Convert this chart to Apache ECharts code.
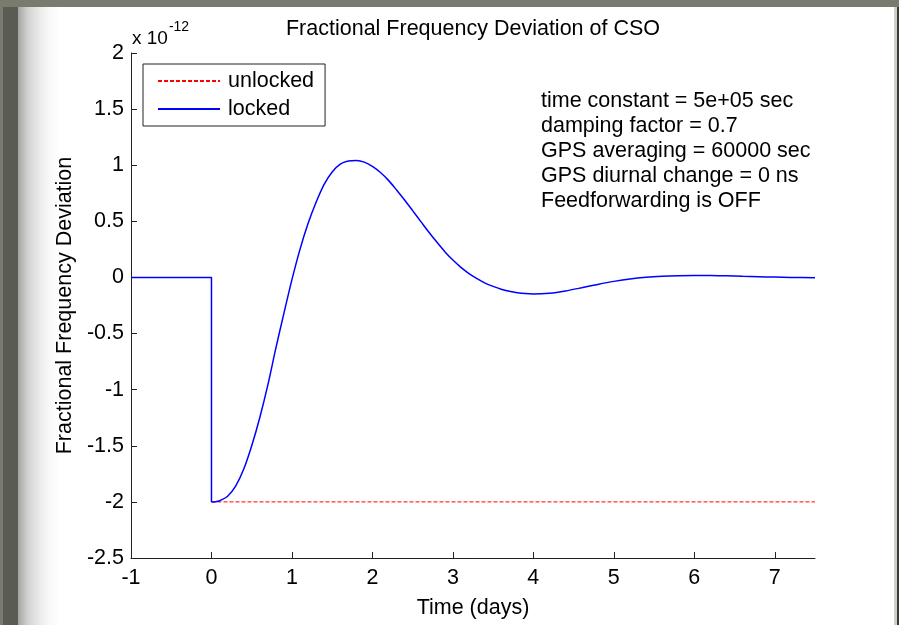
<!DOCTYPE html>
<html>
<head>
<meta charset="utf-8">
<script src="https://cdn.jsdelivr.net/npm/echarts@6/dist/echarts.min.js"></script>
<style>
html, body { margin: 0; padding: 0; width: 899px; height: 625px; overflow: hidden; }
.bg { position: absolute; }
#chart { position: absolute; left: 0; top: 0; width: 899px; height: 625px; }
</style>
</head>
<body>
<div class="bg" style="left:0;top:0;width:899px;height:625px;background:#787b6e;"></div>
<div class="bg" style="left:3px;top:7px;width:15px;height:618px;background:#5a5c54;"></div>
<div class="bg" style="left:18px;top:7px;width:876px;height:618px;background:linear-gradient(to right,#a4a5a1 0px,#d2d2d0 10px,#ebebeb 22px,#f9f9f9 32px,#ffffff 42px);"></div>
<div class="bg" style="left:894px;top:7px;width:3px;height:618px;background:#cfcfc8;"></div>
<div class="bg" style="left:897px;top:7px;width:2px;height:618px;background:#3a3b36;"></div>
<div id="chart"></div>
<script>
// ---- data ----
// step part of the locked curve (before and at the jump)
const stepTimes = [-1, 0, 0];
const stepValues = [0, 0, -2];
// recovery part of the locked curve (after the jump)
const recoveryTimes = [0, 0.05, 0.1, 0.2, 0.3, 0.4, 0.5, 0.6, 0.7, 0.8, 0.9, 1.0,
  1.1, 1.2, 1.3, 1.4, 1.5, 1.6, 1.7, 1.8, 1.9, 2.0, 2.1, 2.2, 2.3, 2.4, 2.5, 2.6,
  2.7, 2.8, 2.9, 3.0, 3.1, 3.2, 3.3, 3.4, 3.5, 3.6, 3.7, 3.8, 3.9, 4.0, 4.2, 4.4,
  4.6, 4.8, 5.0, 5.2, 5.4, 5.6, 5.8, 6.0, 6.2, 6.4, 6.6, 6.8, 7.0, 7.2, 7.5];
const recoveryValues = [-2, -1.998, -1.99, -1.95, -1.86, -1.71, -1.50, -1.25, -0.96, -0.63, -0.32, -0.02,
  0.25, 0.48, 0.67, 0.83, 0.94, 1.01, 1.037, 1.043, 1.028, 0.99, 0.935, 0.865, 0.78, 0.69, 0.595, 0.50,
  0.405, 0.315, 0.23, 0.155, 0.09, 0.035, -0.01, -0.05, -0.08, -0.105, -0.123, -0.136, -0.144, -0.147, -0.14, -0.12,
  -0.092, -0.062, -0.035, -0.013, 0.002, 0.011, 0.016, 0.018, 0.018, 0.015, 0.011, 0.007, 0.003, 0.0, -0.003];
const unlockedTimes = [0, 7.5];
const unlockedValues = [-2, -2];
const xTickValues = [-1, 0, 1, 2, 3, 4, 5, 6, 7];
const seriesNames = ['unlocked', 'locked'];
const chartTitle = 'Fractional Frequency Deviation of CSO';
const xName = 'Time (days)';
const yName = 'Fractional Frequency Deviation';
const annotationLines = [
  'time constant = 5e+05 sec',
  'damping factor = 0.7',
  'GPS averaging = 60000 sec',
  'GPS diurnal change = 0 ns',
  'Feedforwarding is OFF'
];

const FONT = '"Liberation Sans", Arial, sans-serif';
const FS = 21.5;

const chart = echarts.init(document.getElementById('chart'), null, { renderer: 'canvas' });

const stepData = stepTimes.map((t, i) => [t, stepValues[i]]);
const recoveryData = recoveryTimes.map((t, i) => [t, recoveryValues[i]]);
const unlockedData = unlockedTimes.map((t, i) => [t, unlockedValues[i]]);

chart.setOption({
  animation: false,
  backgroundColor: 'transparent',
  textStyle: { fontFamily: FONT },
  grid: { left: 131, right: 84, top: 53, bottom: 67, containLabel: false },
  xAxis: {
    type: 'value', min: -1, max: 7.5, interval: 1,
    name: xName, nameLocation: 'middle', nameGap: 39,
    nameTextStyle: { fontSize: FS, color: '#000', fontFamily: FONT },
    axisLine: { onZero: false, lineStyle: { color: '#222', width: 1 } },
    axisTick: { inside: true, length: 6, lineStyle: { color: '#222' }, customValues: xTickValues },
    axisLabel: { fontSize: FS, color: '#000', margin: 9, fontFamily: FONT, customValues: xTickValues },
    splitLine: { show: false }
  },
  yAxis: {
    type: 'value', min: -2.5, max: 2, interval: 0.5,
    name: yName, nameLocation: 'middle', nameGap: 52,
    nameTextStyle: { fontSize: FS, color: '#000', fontFamily: FONT },
    axisLine: { show: true, onZero: false, lineStyle: { color: '#222', width: 1 } },
    axisTick: { show: true, inside: true, length: 6, lineStyle: { color: '#222' } },
    axisLabel: { fontSize: FS, color: '#000', margin: 7, fontFamily: FONT },
    splitLine: { show: false }
  },
  legend: {
    data: seriesNames,
    orient: 'vertical',
    left: 143, top: 64,
    backgroundColor: '#fff',
    borderColor: '#222', borderWidth: 1, borderRadius: 0,
    padding: [6, 11, 6, 14],
    itemWidth: 62, itemHeight: 14, itemGap: 6,
    itemStyle: { opacity: 0 },
    textStyle: { fontSize: FS, color: '#000', fontFamily: FONT, padding: [0, 0, 0, 3] }
  },
  graphic: [
    {
      type: 'text', x: 473, y: 29,
      style: { text: chartTitle, fontSize: FS, fill: '#000', fontFamily: FONT, textAlign: 'center', textVerticalAlign: 'middle' },
      z: 10
    },
    {
      type: 'text', x: 132, y: 20,
      style: {
        text: '{a|x 10}{b|-12}',
        rich: {
          a: { fontSize: 19, fill: '#000', fontFamily: FONT, verticalAlign: 'bottom', lineHeight: 28 },
          b: { fontSize: 14, fill: '#000', fontFamily: FONT, verticalAlign: 'top', lineHeight: 28, padding: [0, 0, 16, 1] }
        }
      },
      z: 10
    },
    {
      type: 'text', x: 541, y: 89,
      style: { text: annotationLines.join('\n'), fontSize: FS, lineHeight: 25, fill: '#000', fontFamily: FONT },
      z: 10
    }
  ],
  series: [
    {
      name: 'unlocked', type: 'line', data: unlockedData, symbol: 'none',
      lineStyle: { color: '#ff0000', width: 1, type: [4, 2] },
      itemStyle: { color: '#ff0000' }, z: 2
    },
    {
      name: 'locked', type: 'line', data: stepData, symbol: 'none', smooth: false,
      lineStyle: { color: '#0000ff', width: 1.5 },
      itemStyle: { color: '#0000ff' }, z: 3
    },
    {
      name: 'locked', type: 'line', data: recoveryData, symbol: 'none', smooth: 0.3,
      lineStyle: { color: '#0000ff', width: 1.5 },
      itemStyle: { color: '#0000ff' }, z: 3
    }
  ]
});
</script>
</body>
</html>
